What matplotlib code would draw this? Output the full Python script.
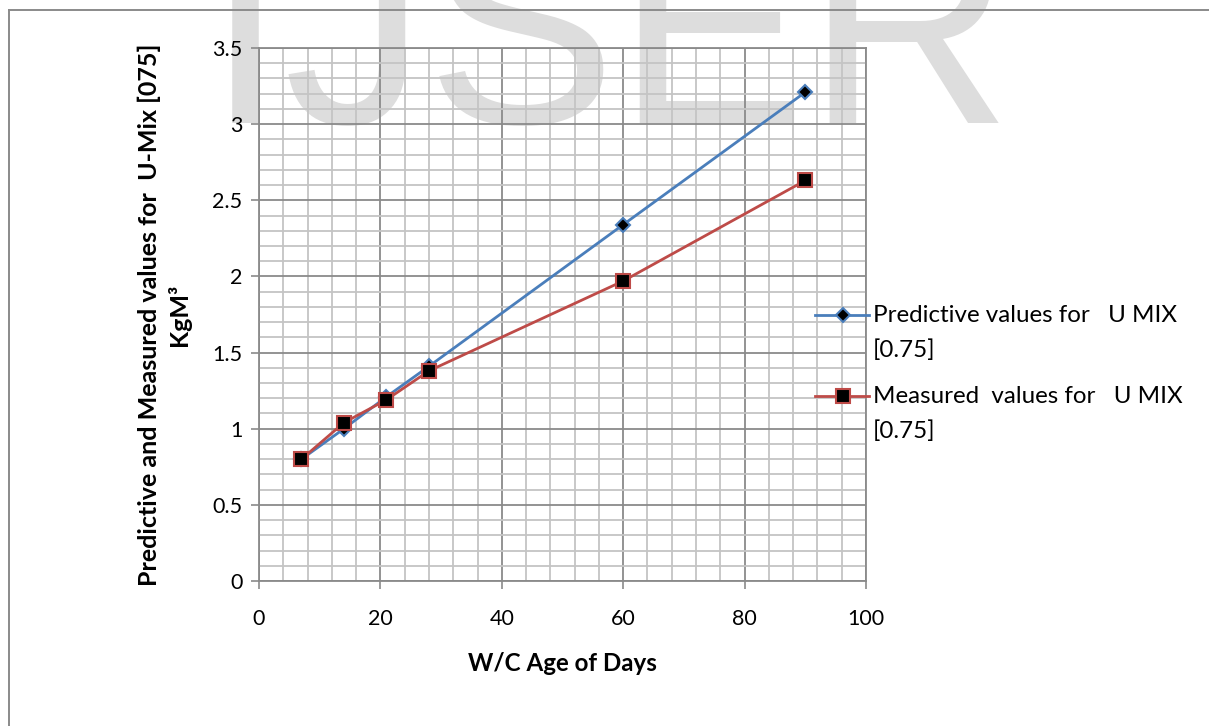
import matplotlib
matplotlib.use("Agg")
import matplotlib.pyplot as plt
from matplotlib.lines import Line2D
from matplotlib.ticker import MultipleLocator, FormatStrFormatter

# Curing age (days) and strength values for U-Mix [0.75]
age_days = [7, 14, 21, 28, 60, 90]
predictive = [0.80, 1.00, 1.21, 1.41, 2.34, 3.21]
measured = [0.80, 1.04, 1.19, 1.38, 1.97, 2.63]

series_labels = ["Predictive values for   U MIX\n[0.75]",
                 "Measured  values for   U MIX\n[0.75]"]
x_label = "W/C Age of Days"
y_label = "Predictive and Measured values for  U-Mix [075]\nKgM\u00b3"

plt.rcParams["font.family"] = ["Lato", "DejaVu Sans"]

W, H = 1209, 726
fig = plt.figure(figsize=(W / 100, H / 100), dpi=100)
fig.patch.set_facecolor("white")

def fx(px):
    return px / W

def fy(py):
    return 1 - py / H

# Watermark behind the chart
fig.text(fx(206), fy(123), "IJSER", fontsize=205, color="#dddddd",
         family=["Liberation Sans", "DejaVu Sans"], ha="left", va="baseline",
         zorder=-5)

ax = fig.add_axes([fx(259), fy(581), fx(866) - fx(259), fy(48) - fy(581)])
ax.patch.set_alpha(0)

blue = "#4A7EBB"
red = "#BE4B48"

ax.plot(age_days, predictive, color=blue, lw=2.0, marker="D", ms=7,
        mfc="black", mec=blue, mew=1.5, zorder=4, clip_on=False)
ax.plot(age_days, measured, color=red, lw=2.0, marker="s", ms=10.5,
        mfc="black", mec=red, mew=1.5, zorder=5, clip_on=False)

ax.set_xlim(0, 100)
ax.set_ylim(0, 3.5)
ax.xaxis.set_major_locator(MultipleLocator(20))
ax.xaxis.set_minor_locator(MultipleLocator(4))
ax.yaxis.set_major_locator(MultipleLocator(0.5))
ax.yaxis.set_minor_locator(MultipleLocator(0.1))
ax.yaxis.set_major_formatter(FormatStrFormatter("%g"))

ax.grid(which="minor", color="#c4c4c4", lw=1.3, zorder=1)
ax.grid(which="major", color="#8a8a8a", lw=1.3, zorder=2)
ax.set_axisbelow(True)
for s in ax.spines.values():
    s.set_color("#8a8a8a")
    s.set_linewidth(1.3)

ax.tick_params(which="major", direction="out", length=6, width=1.2,
               color="#8a8a8a", labelsize=15.5)
ax.tick_params(axis="x", pad=14)
ax.tick_params(axis="y", pad=6)
ax.tick_params(which="minor", length=0)

ax.set_xlabel(x_label, fontsize=17.4, fontweight="bold", labelpad=17)
ax.set_ylabel(y_label, fontsize=18, fontweight="bold", labelpad=15,
              linespacing=1.3)

# Legend drawn to the right of the plot area
legend_rows = [(315, blue, "D", 7), (396, red, "s", 10.5)]
for (row_y, col, mk, size), label in zip(legend_rows, series_labels):
    fig.add_artist(Line2D([fx(815), fx(843), fx(869)], [fy(row_y)] * 3,
                          color=col, lw=2.0, marker=mk, ms=size,
                          mfc="black", mec=col, mew=1.5, markevery=[1],
                          transform=fig.transFigure, zorder=6))
    fig.text(fx(873), fy(row_y - 10), label, fontsize=17.4, ha="left",
             va="top", linespacing=1.78)

# Chart frame
frame_col = "#8a8a8a"
fig.add_artist(Line2D([fx(8.5), fx(8.5)], [fy(9.5), 0], color=frame_col,
                      lw=1.4, transform=fig.transFigure, zorder=10))
fig.add_artist(Line2D([fx(8.5), 1], [fy(9.5), fy(9.5)], color=frame_col,
                      lw=1.4, transform=fig.transFigure, zorder=10))

fig.savefig("out.png", dpi=100, facecolor="white")
